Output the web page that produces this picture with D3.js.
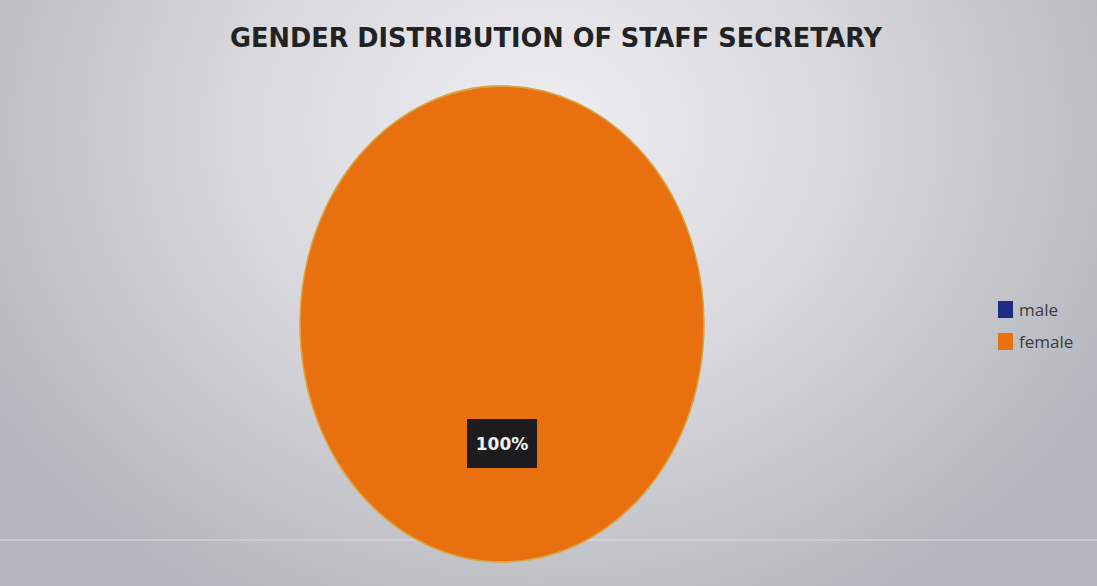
<!DOCTYPE html>
<html lang="en">
<head>
  <meta charset="UTF-8" />
  <title>Gender distribution of staff secretary</title>
  <script src="https://d3js.org/d3.v7.min.js"></script>
  <style>
    body { margin: 0; background: #c4c4ca; }
    svg { display: block; }
    .title { font-family: "DejaVu Sans Condensed", "Open Sans", sans-serif; font-weight: bold; fill: #222; }
    .legend-label { font-family: "Open Sans", sans-serif; font-size: 17px; fill: #3a3a3e; }
    .pct { font-family: "DejaVu Sans", sans-serif; font-weight: bold; font-size: 17px; fill: #f2f2f2; }
  </style>
</head>
<body>
  <div id="chart"></div>
  <script>
    const categories = ["male", "female"];
    const values = [0, 100];
    const colors = ["#1f2b85", "#e8700e"];

    const width = 1097;
    const height = 586;

    const svg = d3.select("#chart")
      .append("svg")
        .attr("width", width)
        .attr("height", height);

    const defs = svg.append("defs");
    const bg = defs.append("radialGradient")
      .attr("id", "bg")
      .attr("gradientUnits", "userSpaceOnUse")
      .attr("cx", 540).attr("cy", 130).attr("r", 640)
      .attr("gradientTransform", "translate(540,130) scale(1,0.85) translate(-540,-130)");
    bg.append("stop").attr("offset", "0%").attr("stop-color", "#efeff2");
    bg.append("stop").attr("offset", "45%").attr("stop-color", "#d9d9de");
    bg.append("stop").attr("offset", "100%").attr("stop-color", "#b5b5bd");

    svg.append("rect")
      .attr("width", width)
      .attr("height", height)
      .attr("fill", "url(#bg)");

    // faint scan line
    svg.append("line")
      .attr("x1", 0).attr("x2", width)
      .attr("y1", 540).attr("y2", 540)
      .attr("stroke", "#e2e2e8")
      .attr("stroke-width", 1.5)
      .attr("opacity", 0.6);

    svg.append("text")
      .attr("class", "title")
      .attr("x", 556)
      .attr("y", 47)
      .attr("text-anchor", "middle")
      .attr("font-size", 27)
      .attr("textLength", 652)
      .attr("lengthAdjust", "spacingAndGlyphs")
      .text("GENDER DISTRIBUTION OF STAFF SECRETARY");

    // pie (stretched vertically like the original)
    const cx = 502, cy = 324, rx = 202, ry = 238;
    const r = rx;

    const pie = d3.pie().sort(null).value(d => d.value);
    const data = categories.map((c, i) => ({ name: c, value: values[i], color: colors[i] }));
    const arcs = pie(data);
    const arc = d3.arc().innerRadius(0).outerRadius(r);

    const g = svg.append("g")
      .attr("transform", `translate(${cx},${cy}) scale(1,${ry / rx})`);

    g.selectAll("path")
      .data(arcs.filter(d => d.value > 0))
      .enter()
      .append("path")
        .attr("d", arc)
        .attr("fill", d => d.data.color)
        .attr("stroke", "#d9a544")
        .attr("stroke-width", 1.5);

    const labels = svg.append("g");
    arcs.filter(d => d.value > 0).forEach(d => {
      const [lx, ly] = arc.centroid(d);
      const px = cx + lx;
      const py = cy + ly * (ry / rx) + 1;
      labels.append("rect")
        .attr("x", px - 35)
        .attr("y", py - 25)
        .attr("width", 70)
        .attr("height", 49)
        .attr("fill", "#1c1c1e");
      labels.append("text")
        .attr("class", "pct")
        .attr("x", px)
        .attr("y", py)
        .attr("dy", "0.35em")
        .attr("text-anchor", "middle")
        .text(d3.format(".0%")(d.value / d3.sum(values)));
    });

    const legend = svg.append("g")
      .attr("transform", "translate(998,301)");

    const item = legend.selectAll("g")
      .data(data)
      .enter()
      .append("g")
        .attr("transform", (d, i) => `translate(0,${i * 32})`);

    item.append("rect")
      .attr("width", 15)
      .attr("height", 17)
      .attr("fill", d => d.color);

    item.append("text")
      .attr("class", "legend-label")
      .attr("x", 21)
      .attr("y", 9)
      .attr("dy", "0.35em")
      .text(d => d.name);
  </script>
</body>
</html>
